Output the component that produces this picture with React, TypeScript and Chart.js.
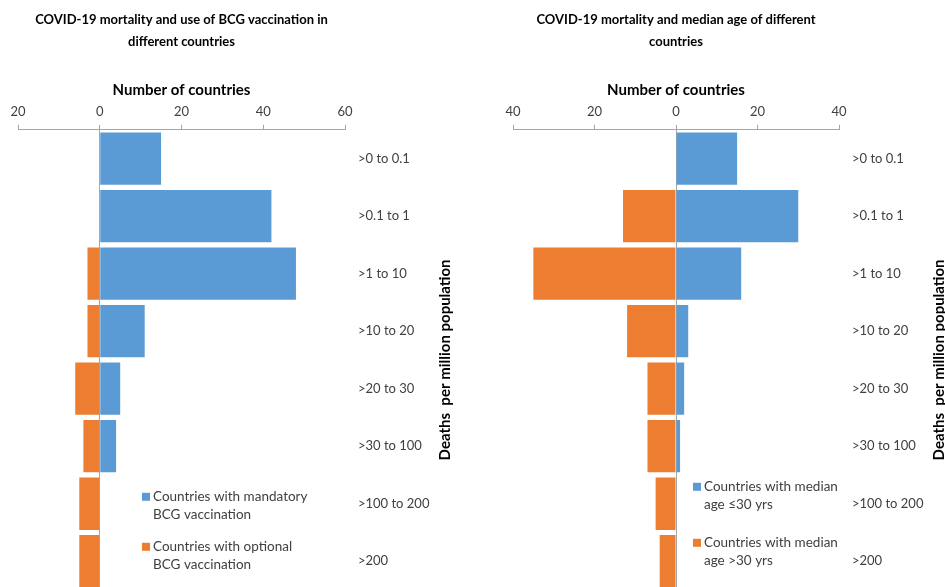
import { useEffect, useRef } from 'react';
import { Chart, registerables } from 'chart.js';

Chart.register(...registerables);
Chart.defaults.font.family = 'Lato, "Open Sans", sans-serif';

const categories = ['>0 to 0.1', '>0.1 to 1', '>1 to 10', '>10 to 20', '>20 to 30', '>30 to 100', '>100 to 200', '>200'];

// left panel: BCG vaccination (optional shown as negative so it grows leftwards)
const bcgMandatory = [15, 42, 48, 11, 5, 4, 0, 0];
const bcgOptional = [0, 0, -3, -3, -6, -4, -5, -5];
const bcgTicks = [-20, 0, 20, 40, 60];

// right panel: median age
const ageYoung = [15, 30, 16, 3, 2, 1, 0, 0];
const ageOld = [0, -13, -35, -12, -7, -7, -5, -4];
const ageTicks = [-40, -20, 0, 20, 40];

const BLUE = '#5b9bd5';
const ORANGE = '#ed7d31';
const AXIS = '#a6a6a6';

const sidePlugin = {
  id: 'side',
  afterDraw(chart: any, _args: any, opts: any) {
    const { ctx, chartArea } = chart;
    ctx.save();
    ctx.font = 'bold 15px Lato, "Open Sans", sans-serif';
    ctx.fillStyle = '#000';
    ctx.textAlign = 'center';
    ctx.textBaseline = 'middle';
    ctx.translate(chartArea.right + opts.titleOffset, (chartArea.top + chartArea.bottom) / 2);
    ctx.rotate(-Math.PI / 2);
    ctx.fillText(opts.title, 0, 0);
    ctx.restore();

    ctx.save();
    ctx.font = '13.5px Lato, "Open Sans", sans-serif';
    ctx.textAlign = 'left';
    ctx.textBaseline = 'middle';
    chart.data.datasets.forEach((ds: any, i: number) => {
      const x = chartArea.left + opts.legendX;
      const y = chartArea.top + opts.legendY[i];
      ctx.fillStyle = ds.backgroundColor;
      ctx.fillRect(x, y - 4, 8, 8);
      ctx.fillStyle = '#404040';
      String(ds.label).split('\n').forEach((line: string, j: number) => {
        ctx.fillText(line, x + 11, y + j * 17.5);
      });
    });
    ctx.restore();
  },
};

interface PanelProps {
  title: string[];
  positive: number[];
  negative: number[];
  posLabel: string;
  negLabel: string;
  ticks: number[];
  padLeft: number;
  axisWidth: number;
  legendX: number;
  legendY: number[];
  width: number;
}

function Panel({ title, positive, negative, posLabel, negLabel, ticks, padLeft, axisWidth, legendX, legendY, width }: PanelProps) {
  const canvasRef = useRef<HTMLCanvasElement>(null);
  const chartRef = useRef<Chart | null>(null);

  useEffect(() => {
    if (!canvasRef.current) return;
    if (chartRef.current) chartRef.current.destroy();

    chartRef.current = new Chart(canvasRef.current, {
      type: 'bar',
      data: {
        labels: categories,
        datasets: [
          { label: posLabel, data: positive, backgroundColor: BLUE, barPercentage: 0.91, categoryPercentage: 1 },
          { label: negLabel, data: negative, backgroundColor: ORANGE, barPercentage: 0.91, categoryPercentage: 1 },
        ],
      },
      options: {
        indexAxis: 'y',
        animation: false,
        responsive: true,
        maintainAspectRatio: false,
        layout: { padding: { left: padLeft, right: 0, top: 0, bottom: 0 } },
        plugins: {
          legend: { display: false },
          tooltip: { enabled: false },
          title: {
            display: true,
            text: title,
            fullSize: false,
            color: '#000',
            font: { size: 13, weight: 'bold', lineHeight: 1.7 },
            padding: { top: 9, bottom: 24 },
          },
          side: {
            title: 'Deaths  per million population',
            titleOffset: 100,
            legendX,
            legendY,
          },
        } as any,
        scales: {
          x: {
            type: 'linear',
            position: 'top',
            stacked: true,
            min: ticks[0],
            max: ticks[ticks.length - 1],
            afterBuildTicks: (s: any) => {
              s.ticks = ticks.map((v) => ({ value: v }));
            },
            ticks: {
              color: '#404040',
              font: { size: 13 },
              padding: 5,
              maxRotation: 0,
              callback: (v: any) => String(Math.abs(Number(v))),
            },
            grid: {
              color: (c: any) => (c.tick && c.tick.value === 0 ? AXIS : 'transparent'),
              tickColor: AXIS,
              tickLength: 5,
              drawOnChartArea: true,
            },
            border: { display: true, color: AXIS },
            title: {
              display: true,
              text: 'Number of countries',
              color: '#000',
              font: { size: 15, weight: 'bold' },
              padding: { top: 4, bottom: 0 },
            },
          },
          y: {
            type: 'category',
            position: 'right',
            stacked: true,
            grid: { display: false, drawTicks: false },
            border: { display: false },
            ticks: { color: '#404040', font: { size: 13 }, padding: 13 },
            afterFit: (s: any) => {
              s.width = axisWidth;
              s.paddingTop = 0;
              s.paddingBottom = 0;
            },
          },
        },
      },
      plugins: [sidePlugin],
    });

    return () => {
      if (chartRef.current) {
        chartRef.current.destroy();
        chartRef.current = null;
      }
    };
  }, [title, positive, negative, posLabel, negLabel, ticks, padLeft, axisWidth, legendX, legendY]);

  return (
    <div style={{ width: `${width}px`, height: '590px', position: 'relative', flex: 'none' }}>
      <canvas ref={canvasRef} role="img" aria-label={title.join(' ')}></canvas>
    </div>
  );
}

export default function App() {
  return (
    <div
      style={{
        position: 'fixed',
        left: 0,
        top: 0,
        width: '945px',
        height: '587px',
        overflow: 'hidden',
        display: 'flex',
        background: '#fff',
      }}
    >
      <Panel
        title={['COVID-19 mortality and use of BCG vaccination in', 'different countries']}
        positive={bcgMandatory}
        negative={bcgOptional}
        posLabel={'Countries with mandatory\nBCG vaccination'}
        negLabel={'Countries with optional\nBCG vaccination'}
        ticks={bcgTicks}
        padLeft={18}
        axisWidth={127}
        legendX={124}
        legendY={[367, 417]}
        width={472}
      />
      <Panel
        title={['COVID-19 mortality and median age of different', 'countries']}
        positive={ageYoung}
        negative={ageOld}
        posLabel={'Countries with median\nage \u226430 yrs'}
        negLabel={'Countries with median\nage >30 yrs'}
        ticks={ageTicks}
        padLeft={41}
        axisWidth={106}
        legendX={180}
        legendY={[357, 413]}
        width={473}
      />
    </div>
  );
}
